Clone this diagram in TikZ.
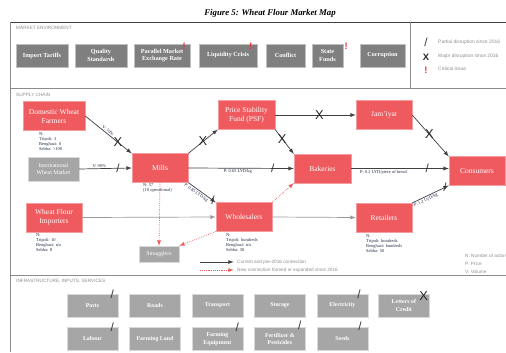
\documentclass[tikz,border=0pt]{standalone}
\usepackage{fontspec}
\setmainfont{Liberation Serif}
\setsansfont{Liberation Sans}
\usetikzlibrary{positioning,arrows}
\definecolor{flourRed}{HTML}{EE5A5E}
\definecolor{envGrey}{HTML}{7F7F7F}
\definecolor{infGrey}{HTML}{A6A6A6}
\definecolor{noteBlue}{HTML}{1F2A44}
\definecolor{critRed}{HTML}{E8363C}
\tikzstyle{arrow} = [line width=0.6pt,->,>=latex,draw=black!75]
\tikzstyle{faint} = [line width=0.6pt,->,>=latex,draw=black!40]
\tikzstyle{newLink} = [line width=0.6pt,densely dotted,->,>=latex,draw=flourRed]
\tikzstyle{frameLine} = [line width=0.6pt,draw=black!45]
\tikzstyle{tRed} = [rectangle, fill=flourRed, draw=flourRed!60, text=white, align=center, minimum width=1.68cm, minimum height=0.86cm, inner sep=1pt, font=\fontsize{6.4}{7.6}\selectfont]
\tikzstyle{tEnv} = [rectangle, fill=envGrey, draw=black!25, text=white, align=center, minimum height=0.69cm, inner sep=1pt, font=\bfseries\fontsize{5.3}{6.4}\selectfont]
\tikzstyle{tInf} = [rectangle, fill=infGrey, draw=black!15, text=white, align=center, minimum width=1.53cm, minimum height=0.69cm, inner sep=1pt, font=\bfseries\fontsize{5}{6.2}\selectfont]
\tikzstyle{tGrey} = [rectangle, fill=infGrey, draw=black!15, text=white, align=center, inner sep=1pt, font=\fontsize{5}{6}\selectfont]
\tikzstyle{secLabel} = [anchor=west, inner sep=0, text=black!45, font=\sffamily\fontsize{4}{5}\selectfont]
\tikzstyle{keyText} = [anchor=west, inner sep=0, text=black!45, font=\sffamily\fontsize{4}{5}\selectfont]
\tikzstyle{nodeNote} = [anchor=north west, inner sep=0, align=left, text=noteBlue, font=\fontsize{3.8}{4.4}\selectfont]
\tikzstyle{edgeNote} = [inner sep=1pt, text=noteBlue, font=\fontsize{3.8}{4.6}\selectfont]
\tikzstyle{xmark} = [inner sep=0, text=black!85, font=\sffamily\fontsize{11}{11}\selectfont]
\tikzstyle{slash} = [inner sep=0, text=black!80, font=\sffamily\fontsize{10}{10}\selectfont]
\tikzstyle{crit} = [inner sep=0, text=critRed, font=\sffamily\bfseries\fontsize{8}{8}\selectfont]

\begin{document}
\begin{tikzpicture}[x=0.03cm, y=-0.03cm]
        \useasboundingbox (0,0) rectangle (506,352);
        \node[font=\bfseries\itshape\fontsize{7.5}{9}\selectfont] (Title) at (270,13) {Figure 5: Wheat Flour Market Map};
        \draw[frameLine, draw=black!75, line width=0.8pt] (10,22) -- (506,22);
        \draw[frameLine] (10,22) -- (10,352);
        \draw[frameLine] (10,88) -- (506,88);
        \draw[frameLine] (10,275) -- (506,275);
        \draw[frameLine] (410,22) -- (410,88);
        \node[secLabel] (EnvLabel) at (16,28) {MARKET ENVIRONMENT};
        \node[secLabel] (ChainLabel) at (16,95) {SUPPLY CHAIN};
        \node[secLabel] (InfraLabel) at (16,281) {INFRASTRUCTURE, INPUTS, SERVICES};

        \node[tEnv, minimum width=1.56cm] (Tariffs) at (42,55.5) {Import Tariffs};
        \node[tEnv, minimum width=1.56cm] (Quality) at (101,55.5) {Quality\\Standards};
        \node[tEnv, minimum width=1.68cm] (ExRate) at (162,55.5) {Parallel Market\\Exchange Rate};
        \node[tEnv, minimum width=1.74cm] (Liquidity) at (228,55.5) {Liquidity Crisis};
        \node[tEnv, minimum width=1.17cm] (Conflict) at (285.5,55.5) {Conflict};
        \node[tEnv, minimum width=0.93cm] (StateFunds) at (327.5,55.5) {State\\Funds};
        \node[tEnv, minimum width=1.35cm] (Corruption) at (382.5,55.5) {Corruption};
        \node[crit] at ([xshift=-0.18cm,yshift=-0.08cm]ExRate.north east) {!};
        \node[crit] at ([xshift=-0.2cm,yshift=-0.08cm]Liquidity.north east) {!};
        \node[crit] at ([xshift=0.09cm,yshift=-0.08cm]StateFunds.north east) {!};

        \node[slash] (KeySlash) at (426,42) {/};
        \node[xmark, font=\sffamily\bfseries\fontsize{8}{8}\selectfont] (KeyX) at (426,57) {X};
        \node[crit] (KeyCrit) at (426,70) {!};
        \begin{scope}
        \clip (0,0) rectangle (506,352);
        \node[keyText, font=\sffamily\fontsize{4.2}{5}\selectfont] at (438,42) {Partial disruption since 2016};
        \node[keyText, font=\sffamily\fontsize{4.2}{5}\selectfont] at (438,56) {Major disruption since 2016};
        \node[keyText, font=\sffamily\fontsize{4.2}{5}\selectfont] at (438,69) {Critical issue};
        \node[keyText] at (465,256) {N: Number of actors};
        \node[keyText] at (465,264) {P: Price};
        \node[keyText] at (465,272) {V: Volume};
        \end{scope}

        \node[tRed, minimum width=1.86cm] (Farmers) at (54,116) {Domestic Wheat\\Farmers};
        \node[tGrey, minimum width=1.53cm, minimum height=0.72cm] (IntMarket) at (53.5,169) {International\\Wheat Market};
        \node[tRed] (Mills) at (160,168) {Mills};
        \node[tRed, minimum width=1.71cm] (PSF) at (246.5,115) {Price Stability\\Fund (PSF)};
        \node[tRed] (Jamiyat) at (384,115) {Jam'iyat};
        \node[tRed, minimum width=1.71cm] (Bakeries) at (322.5,168.5) {Bakeries};
        \node[tRed] (Consumers) at (477,171) {Consumers};
        \node[tRed] (Importers) at (54,217.5) {Wheat Flour\\Importers};
        \node[tRed] (Wholesalers) at (244,217) {Wholesalers};
        \node[tRed] (Retailers) at (384,217.5) {Retailers};
        \node[tGrey, minimum width=1.2cm, minimum height=0.48cm] (Smugglers) at (159,254) {Smugglers};

        \node[nodeNote] (FarmersN) at (39,132) {N:\\Tripoli: 3\\Benghazi: 0\\Sebha: {>}100};
        \node[nodeNote] (MillsN) at (143,183) {N: 57\\(10 operational)};
        \node[nodeNote] (ImportersN) at (36,233) {N:\\Tripoli: 10\\Benghazi: n/a\\Sebha: 8};
        \node[nodeNote] (WholesalersN) at (226,233) {N:\\Tripoli: hundreds\\Benghazi: n/a\\Sebha: 30};
        \node[nodeNote] (RetailersN) at (366,234) {N:\\Tripoli: hundreds\\Benghazi: hundreds\\Sebha: 50};

        \draw[arrow] (Farmers.east) -- node[edgeNote, sloped, above, pos=0.45] {V: 10\%} node[xmark, pos=0.7] {X} (Mills.north west);
        \draw[arrow] (IntMarket.east) -- node[edgeNote, above, pos=0.38] {V: 90\%} node[slash, pos=0.74] {/} (Mills.west);
        \draw[arrow] (Mills.north east) -- node[xmark, pos=0.5] {X} (PSF.south west);
        \draw[arrow] (PSF.east) -- node[xmark, pos=0.55] {X} (Jamiyat.west);
        \draw[arrow] (PSF.south east) -- node[xmark, pos=0.37] {X} (Bakeries.north west);
        \draw[arrow] (Jamiyat.east) -- node[xmark, pos=0.47] {X} (Consumers.north west);
        \draw[arrow] (Mills.east) -- node[edgeNote, below, pos=0.47] {P: 0.65 LYD/kg} node[slash, pos=0.8] {/} (Bakeries.west);
        \draw[arrow] (Bakeries.east) -- node[edgeNote, below, pos=0.33] {P: 0.2 LYD/piece of bread} node[slash, pos=0.78] {/} (Bakeries.east -| Consumers.west);
        \draw[arrow] (Mills.south east) -- node[edgeNote, sloped, below, pos=0.36] {P: 0.85 LYD/kg} node[slash, pos=0.9] {/} (Wholesalers.north west);
        \draw[arrow] (Retailers.north east) -- node[edgeNote, sloped, below, pos=0.33] {P: 1.2 LYD/kg} node[slash, pos=0.9] {/} (Consumers.south west);
        \draw[faint] (Importers.east) -- (Wholesalers.west);
        \draw[faint] (Wholesalers.east) -- (Retailers.west);
        \draw[newLink] (Mills.south) -- (Smugglers.north);
        \draw[newLink] (Wholesalers.south west) -- (Smugglers.north east);
        \draw[newLink] (Wholesalers.north east) -- (Bakeries.south west);

        \coordinate (KeyA) at (200,262);
        \coordinate (KeyB) at (200,270);
        \node[keyText] (KeyCurrent) at (237,262) {Current and pre-2016 connection};
        \node[keyText] (KeyNew) at (237,270) {New connection formed or expanded since 2016};
        \draw[arrow] (KeyA) -- ([xshift=-0.1cm]KeyCurrent.west);
        \draw[newLink] (KeyB) -- ([xshift=-0.1cm]KeyNew.west);

        \node[tInf] (Ports) at (92.5,305.5) {Ports};
        \node[tInf] (Roads) [right=0.33cm of Ports] {Roads};
        \node[tInf] (Transport) [right=0.33cm of Roads] {Transport};
        \node[tInf] (Storage) [right=0.33cm of Transport] {Storage};
        \node[tInf] (Electricity) [right=0.33cm of Storage] {Electricity};
        \node[tInf] (Credit) [right=0.3cm of Electricity] {Letters of\\Credit};
        \node[tInf] (Labour) [below=0.3cm of Ports] {Labour};
        \node[tInf] (FarmLand) [right=0.33cm of Labour] {Farming Land};
        \node[tInf] (Equipment) [right=0.33cm of FarmLand] {Farming\\Equipment};
        \node[tInf] (Fertiliser) [right=0.33cm of Equipment] {Fertilizer \&\\Pesticides};
        \node[tInf] (Seeds) [right=0.33cm of Fertiliser] {Seeds};
        \node[slash] at ([xshift=-0.18cm,yshift=-0.03cm]Ports.north east) {/};
        \node[slash] at ([xshift=-0.27cm,yshift=-0.03cm]Electricity.north east) {/};
        \node[xmark] at ([xshift=-0.18cm,yshift=-0.06cm]Credit.north east) {X};
        \node[slash] at ([xshift=-0.18cm,yshift=0cm]Labour.north east) {/};
        \node[slash] at ([xshift=-0.18cm,yshift=0cm]Equipment.north east) {/};
        \node[slash] at ([xshift=-0.18cm,yshift=0.05cm]Fertiliser.north east) {/};
        \node[slash] at ([xshift=-0.24cm,yshift=0.03cm]Seeds.north east) {/};
\end{tikzpicture}
\end{document}
